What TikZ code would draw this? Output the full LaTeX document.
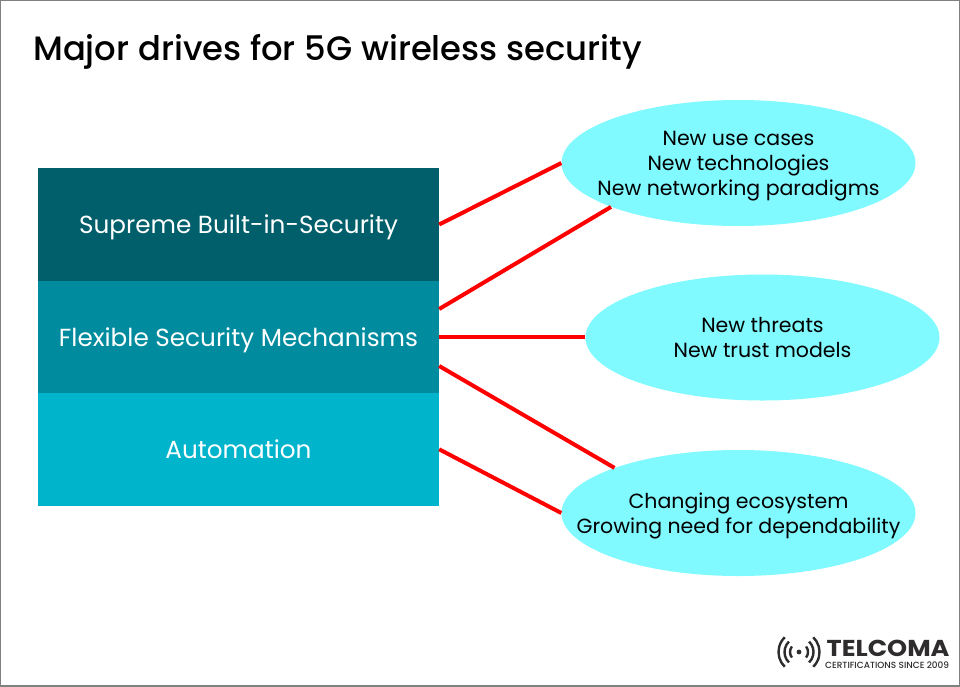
\documentclass[tikz,border=0pt]{standalone}
\usepackage{fontspec}
\setmainfont{Poppins}
\newfontfamily\headfont{Poppins Medium}
\newfontfamily\logofont[FakeStretch=1.11]{Poppins}
\newfontfamily\sincefont{Poppins Medium}
\definecolor{darkteal}{HTML}{005F6B}
\definecolor{midteal}{HTML}{008C9E}
\definecolor{lightteal}{HTML}{00B4CC}
\definecolor{palecyan}{HTML}{80F9FF}
\definecolor{logogray}{HTML}{2E2C2D}
\usetikzlibrary{shapes.geometric}
\tikzset{
    drivebox/.style={minimum width=401pt,minimum height=112.5pt,inner sep=0pt,text=white,text depth=0pt,font=\fontsize{24.7}{29}\selectfont},
    needoval/.style={ellipse,fill=palecyan,minimum width=354pt,minimum height=126pt,inner xsep=-45pt,inner ysep=0pt,text depth=0pt,align=center,font=\fontsize{20.5}{25}\selectfont},
    redline/.style={red,line width=4pt}
}
\begin{document}
\begin{tikzpicture}[x=1pt,y=-1pt]
\useasboundingbox (0,0) rectangle (960,686);
\draw[gray,line width=1.5pt] (0,0) rectangle (960,686);
\node[anchor=west,inner sep=0pt,text depth=0pt,font=\headfont\fontsize{33.8}{42}\selectfont] (title) at (33,47){Major drives for 5G wireless security};

\node[drivebox,fill=darkteal] (supreme) at (238.5,224.5){Supreme Built-in-Security};
\node[drivebox,fill=midteal] (flexible) at (238.5,337){Flexible Security Mechanisms};
\node[drivebox,fill=lightteal] (automation) at (238.5,449.3){Automation};

\node[needoval] (usecases) at (738.5,163){New use cases\\New technologies\\New networking paradigms};
\node[needoval] (threats) at (762.5,337.5){New threats\\New trust models};
\node[needoval] (ecosystem) at (738.5,513){Changing ecosystem\\Growing need for dependability};

\draw[redline] (supreme.east)--(usecases.west);
\draw[redline] ([yshift=28pt]flexible.east)--(usecases.199.6);
\draw[redline] (flexible.east)--(flexible.east-|threats.west);
\draw[redline] ([yshift=-29pt]flexible.east)--(ecosystem.160.4);
\draw[redline] (automation.east)--(ecosystem.west);

% logo
\fill[logogray] (799,652) circle (2.4);
\foreach \r/\a in {9/38,14.5/46,20.5/46}
{
    \draw[logogray,line width=2.4pt] (799,652)+(180-\a:\r) arc (180-\a:180+\a:\r);
    \draw[logogray,line width=2.4pt] (799,652)+(-\a:\r) arc (-\a:\a:\r);
}
\node[anchor=west,inner sep=0pt,text=logogray,font=\logofont\bfseries\fontsize{23}{28}\selectfont] (telcoma) at (826.5,648){TELCOMA};
\node[anchor=west,inner sep=0pt,text=logogray,font=\sincefont\fontsize{8.95}{10}\selectfont] (since) at (825,665.5){CERTIFICATIONS SINCE 2009};
\end{tikzpicture}
\end{document}
